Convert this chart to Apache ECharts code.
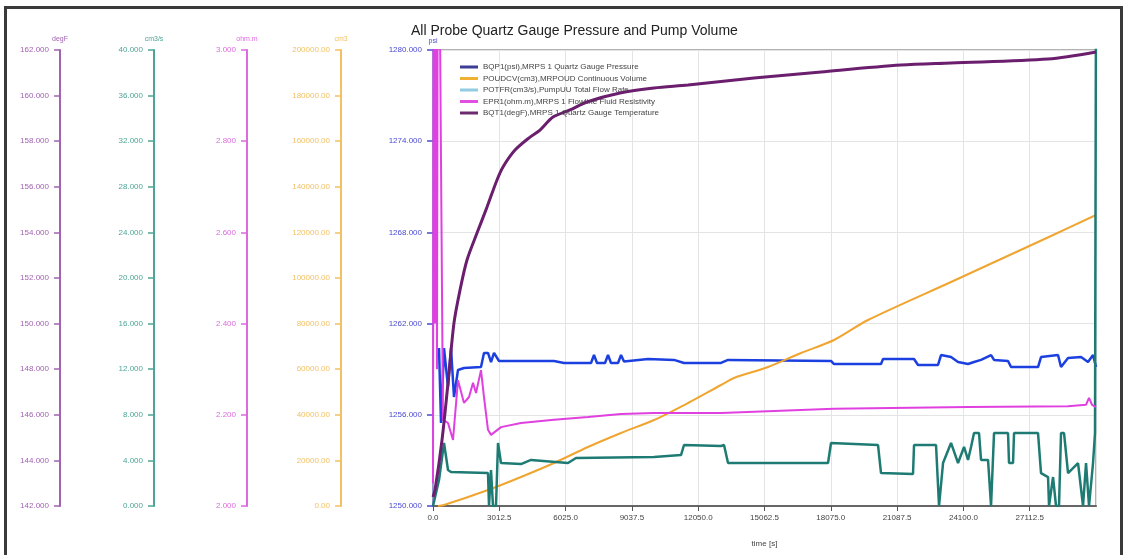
<!DOCTYPE html>
<html>
<head>
<meta charset="utf-8">
<title>All Probe Quartz Gauge Pressure and Pump Volume</title>
<script src="https://cdn.jsdelivr.net/npm/echarts@6/dist/echarts.min.js"></script>
<style>
html, body { margin: 0; padding: 0; background: #fff; }
#chart { width: 1124px; height: 555px; }
</style>
</head>
<body>
<div id="chart"></div>
<script>
var chart = echarts.init(document.getElementById('chart'));

var seriesNames = [
    'BQP1(psi),MRPS 1 Quartz Gauge Pressure',
    'POUDCV(cm3),MRPOUD Continuous Volume',
    'POTFR(cm3/s),PumpUU Total Flow Rate',
    'EPR1(ohm.m),MRPS 1 Flowline Fluid Resistivity',
    'BQT1(degF),MRPS 1 Quartz Gauge Temperature'
];

// [time s, value]
var pressure = [
    [273, 1260.39], [364, 1255.46], [500, 1260.39], [682, 1257.83], [818, 1260.39],
    [954, 1257.17], [1136, 1258.95], [1409, 1259.08], [2181, 1259.14], [2317, 1260.07],
    [2499, 1260.07], [2636, 1259.47], [2772, 1260.07], [2999, 1259.54], [5498, 1259.54],
    [5953, 1259.41], [7180, 1259.41], [7316, 1259.93], [7452, 1259.41], [7816, 1259.41],
    [7952, 1259.93], [8088, 1259.41], [8407, 1259.41], [8543, 1259.93], [8679, 1259.5],
    [9770, 1259.67], [10951, 1259.61], [11405, 1259.41], [13087, 1259.41], [13405, 1259.61],
    [18085, 1259.54], [18221, 1259.34], [20357, 1259.34], [20448, 1259.67], [21857, 1259.67],
    [22038, 1259.28], [22947, 1259.28], [23084, 1259.93], [23538, 1259.8], [23856, 1259.47],
    [24310, 1259.34], [24583, 1259.47], [24901, 1259.61], [25356, 1259.93], [25492, 1259.61],
    [26128, 1259.54], [26264, 1259.14], [27491, 1259.14], [27627, 1259.8], [28400, 1259.93],
    [28536, 1259.14], [28854, 1259.74], [29445, 1259.8], [29763, 1259.47], [29990, 1259.93],
    [30125, 1259.14]
];

var volume = [
    [227, 0], [500, 439], [2499, 7018], [3999, 12719], [5498, 18860], [7043, 25877],
    [8543, 32018], [10042, 37720], [11587, 45175], [13087, 53070], [13677, 56140],
    [15222, 60965], [16722, 67105], [18221, 72807], [19766, 81579], [23538, 98246],
    [25810, 108333], [28082, 118421], [30125, 127632]
];

var flowRate = [
    [0, 0], [273, 2.28], [500, 5.53], [682, 3.16], [818, 2.98], [2499, 2.89], [2545, 0],
    [2636, 3.16], [2726, 0], [2863, 0], [2954, 5.53], [3090, 3.77], [3999, 3.68],
    [4453, 4.04], [6134, 3.77], [6498, 4.21], [10042, 4.3], [11269, 4.47], [11405, 5.35],
    [13087, 5.26], [13223, 5.35], [13405, 3.77], [17949, 3.77], [18085, 5.53], [20221, 5.35],
    [20357, 2.89], [21811, 2.81], [21857, 5.35], [22856, 5.35], [22993, 0], [23175, 3.77],
    [23538, 5.53], [23856, 3.77], [24129, 5.18], [24310, 4.04], [24447, 5.18], [24583, 6.4],
    [24810, 6.4], [24901, 4.04], [25219, 4.04], [25356, 0], [25492, 6.4], [26128, 6.4],
    [26173, 3.77], [26355, 3.77], [26401, 6.4], [27491, 6.4], [27627, 2.89], [27946, 2.54],
    [27991, 0], [28173, 2.54], [28309, 0], [28445, 0], [28536, 6.4], [28673, 6.4],
    [28854, 2.89], [29309, 3.77], [29536, 0], [29672, 3.77], [29808, 0], [29990, 3.77],
    [30080, 6.4], [30125, 45]
];

var resistivity = [
    [0, 2.05], [40, 3.6], [90, 2.4], [140, 3.6], [180, 2.3], [230, 3.6], [454, 2.189],
    [682, 2.182], [909, 2.145], [1136, 2.276], [1409, 2.226], [1636, 2.239], [1818, 2.27],
    [1954, 2.248], [2181, 2.298], [2317, 2.239], [2499, 2.167], [2636, 2.156], [3090, 2.173],
    [3999, 2.182], [5498, 2.189], [7043, 2.195], [8543, 2.202], [10042, 2.204], [13087, 2.204],
    [18221, 2.213], [24310, 2.217], [28854, 2.219], [29672, 2.222], [29808, 2.237],
    [29945, 2.222], [30125, 2.217]
];

var temperature = [
    [0, 142.4], [91, 142.7], [409, 144.89], [682, 147.39], [954, 150.03], [1227, 151.47],
    [1545, 152.79], [1999, 153.97], [2454, 155.11], [2908, 156.3], [3181, 156.87],
    [3726, 157.61], [4408, 158.18], [4862, 158.49], [5453, 159.06], [6225, 159.37],
    [6998, 159.72], [8498, 160.11], [10042, 160.33], [11587, 160.46], [14586, 160.77],
    [17631, 161.04], [21266, 161.34], [23538, 161.43], [27946, 161.6], [30125, 161.91]
];

var font = 'Liberation Sans, Arial, sans-serif';

function sideAxis(name, color, min, max, interval, offset, digits) {
    return {
        type: 'value',
        position: 'left',
        offset: offset,
        min: min,
        max: max,
        interval: interval,
        name: name,
        nameLocation: 'end',
        nameGap: 7,
        nameTextStyle: { color: color, fontSize: 7, fontFamily: font },
        axisLine: { show: true, lineStyle: { color: color, width: 2 } },
        axisTick: { show: true, length: 6, lineStyle: { color: color, width: 1.5 } },
        axisLabel: {
            color: color, fontSize: 8, fontFamily: font, margin: 11,
            formatter: function (v) { return v.toFixed(digits); }
        },
        splitLine: { show: false }
    };
}

var option = {
    animation: false,
    backgroundColor: '#fff',
    title: {
        text: 'All Probe Quartz Gauge Pressure and Pump Volume',
        left: 406,
        top: 19,
        textStyle: { color: '#222', fontSize: 14, fontWeight: 'normal', fontFamily: font }
    },
    graphic: [{
        type: 'rect',
        shape: { x: 5.5, y: 7.5, width: 1116, height: 600 },
        style: { fill: 'none', stroke: '#3a3a3a', lineWidth: 3 }
    }],
    legend: {
        orient: 'vertical',
        left: 460,
        top: 62,
        padding: 0,
        itemWidth: 18,
        itemHeight: 3,
        itemGap: 1.5,
        icon: 'rect',
        textStyle: { color: '#444', fontSize: 8, lineHeight: 10, fontFamily: font },
        data: [
            { name: seriesNames[0], itemStyle: { color: '#3d3d96' } },
            { name: seriesNames[1], itemStyle: { color: '#f0b030' } },
            { name: seriesNames[2], itemStyle: { color: '#92cce0' } },
            { name: seriesNames[3], itemStyle: { color: '#e050e0' } },
            { name: seriesNames[4], itemStyle: { color: '#6e2a6e' } }
        ]
    },
    grid: {
        left: 433, right: 28, top: 50, bottom: 49,
        show: true, borderColor: '#9a9a9a', borderWidth: 1.5
    },
    xAxis: {
        type: 'value',
        min: 0,
        max: 30125,
        interval: 3012.5,
        name: 'time [s]',
        nameLocation: 'middle',
        nameGap: 34,
        nameTextStyle: { color: '#444', fontSize: 8, fontFamily: font },
        axisLine: { lineStyle: { color: '#666', width: 2 } },
        axisTick: { length: 5, lineStyle: { color: '#555' } },
        axisLabel: {
            color: '#444', fontSize: 8, fontFamily: font, margin: 8, showMaxLabel: false,
            formatter: function (v) { return v.toFixed(1); }
        },
        splitLine: { show: true, lineStyle: { color: '#e4e4e4', width: 1 } }
    },
    yAxis: [
        {
            type: 'value',
            position: 'left',
            min: 1250,
            max: 1280,
            interval: 6,
            name: 'psi',
            nameLocation: 'end',
            nameGap: 5,
            nameTextStyle: { color: '#4a4ad0', fontSize: 7, fontFamily: font },
            axisLine: { show: true, lineStyle: { color: '#8a8ad8', width: 1.5 } },
            axisTick: { show: true, length: 6, lineStyle: { color: '#4a4ad0', width: 1.5 } },
            axisLabel: {
                color: '#4a4ad0', fontSize: 8, fontFamily: font, margin: 11,
                formatter: function (v) { return v.toFixed(3); }
            },
            splitLine: { show: true, lineStyle: { color: '#e4e4e4', width: 1 } }
        },
        sideAxis('cm3', '#f3c163', 0, 200000, 20000, 92, 2),
        sideAxis('ohm.m', '#dd6ade', 2, 3, 0.2, 186, 3),
        sideAxis('cm3/s', '#4ea596', 0, 40, 4, 279, 3),
        sideAxis('degF', '#a263b2', 142, 162, 2, 373, 3)
    ],
    series: [
        {
            name: seriesNames[0], type: 'line', yAxisIndex: 0, data: pressure,
            showSymbol: false, lineStyle: { color: '#1c40e0', width: 2.5 }, itemStyle: { color: '#1c40e0' }
        },
        {
            name: seriesNames[1], type: 'line', yAxisIndex: 1, data: volume,
            showSymbol: false, smooth: 0.3, lineStyle: { color: '#f0a530', width: 2 }, itemStyle: { color: '#f0a530' }
        },
        {
            name: seriesNames[2], type: 'line', yAxisIndex: 3, data: flowRate,
            showSymbol: false, lineStyle: { color: '#1e7b74', width: 2.5 }, itemStyle: { color: '#1e7b74' }
        },
        {
            name: seriesNames[3], type: 'line', yAxisIndex: 2, data: resistivity,
            showSymbol: false, lineStyle: { color: '#e040e0', width: 2 }, itemStyle: { color: '#e040e0' }
        },
        {
            name: seriesNames[4], type: 'line', yAxisIndex: 4, data: temperature,
            showSymbol: false, smooth: 0.3,
            lineStyle: { color: '#6b1e6e', width: 3 }, itemStyle: { color: '#6b1e6e' }
        }
    ]
};

chart.setOption(option);
</script>
</body>
</html>
